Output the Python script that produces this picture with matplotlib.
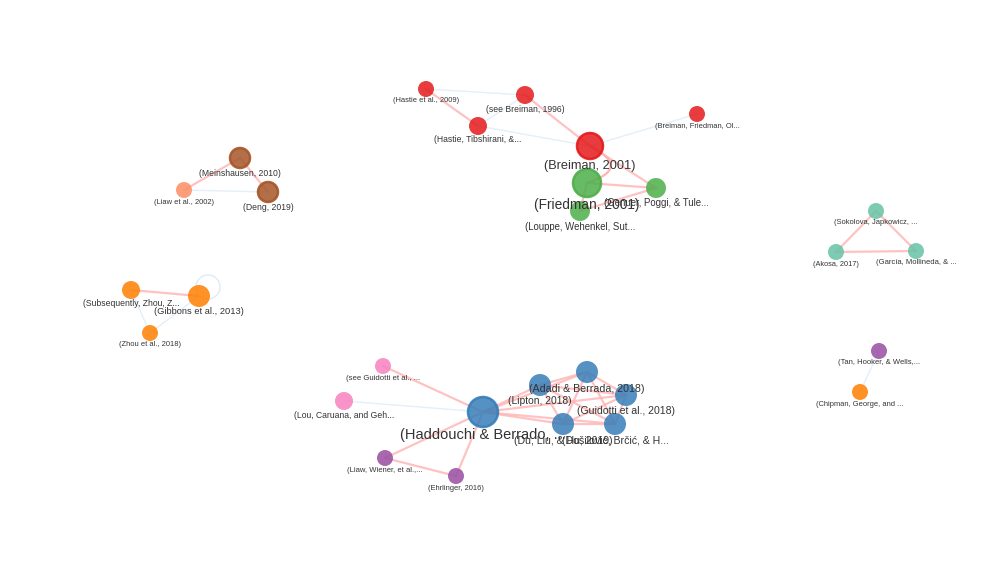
import matplotlib
matplotlib.use("Agg")
import matplotlib.pyplot as plt
from matplotlib.patches import Circle, FancyArrowPatch

# node data: label, group, weight (node radius follows weight)
labels = [
    "(Hastie et al., 2009)", "(see Breiman, 1996)", "(Hastie, Tibshirani, &...",
    "(Breiman, Friedman, Ol...", "(Breiman, 2001)",
    "(Friedman, 2001)", "(Genuer, Poggi, & Tule...", "(Louppe, Wehenkel, Sut...",
    "(Meinshausen, 2010)", "(Deng, 2019)", "(Liaw et al., 2002)",
    "(Subsequently, Zhou, Z...", "(Gibbons et al., 2013)", "(Zhou et al., 2018)",
    "(Sokolova, Japkowicz, ...", "(Akosa, 2017)", "(García, Mollineda, & ...",
    "(Tan, Hooker, & Wells,...", "(Chipman, George, and ...",
    "(see Guidotti et al., ...", "(Lou, Caruana, and Geh...",
    "(Liaw, Wiener, et al.,...", "(Ehrlinger, 2016)",
    "(Haddouchi & Berrado, ...", "(Lipton, 2018)", "(Adadi & Berrada, 2018)",
    "(Guidotti et al., 2018)", "(Du, Liu, & Hu, 2019)", "(Došilović, Brčić, & H...",
]
groups = [
    "red", "red", "red", "red", "red",
    "green", "green", "green",
    "brown", "brown", "salmon",
    "orange", "orange", "orange",
    "teal", "teal", "teal",
    "purple", "orange",
    "pink", "pink",
    "purple", "purple",
    "blue", "blue", "blue", "blue", "blue", "blue",
]
weights = [
    1, 2, 2, 1, 5,
    6, 3, 3,
    3, 3, 1,
    2, 4, 1,
    1, 1, 1,
    1, 1,
    1, 2,
    1, 1,
    7, 4, 4, 4, 4, 4,
]
# layout positions (pixels)
xs = [426, 525, 478, 697, 590, 587, 656, 580, 240, 268, 184, 131, 199, 150,
      876, 836, 916, 879, 860, 383, 344, 385, 456, 483, 540, 587, 626, 563, 615]
ys = [89, 95, 126, 114, 146, 183, 188, 211, 158, 192, 190, 290, 296, 333,
      211, 252, 251, 351, 392, 366, 401, 458, 476, 412, 385, 372, 395, 424, 424]
# label font sizes
fonts = [5.4, 6.2, 6.2, 5.4, 9.2, 9.9, 6.9, 6.9, 6.2, 6.2, 5.4, 6.2, 6.7, 5.4,
         5.4, 5.3, 5.5, 5.5, 5.4, 5.6, 6.2, 5.5, 5.4, 10.5, 7.4, 7.7, 7.6, 7.6, 7.6]

# edges: (source, target, strong)
edges = [
    (0, 2, True), (0, 1, False), (1, 2, False), (1, 4, True), (2, 4, False),
    (3, 4, False), (4, 6, True), (5, 6, True), (5, 7, True), (7, 6, True),
    (8, 10, True), (8, 9, True), (10, 9, False),
    (11, 12, True), (11, 13, False), (13, 12, False),
    (14, 15, True), (14, 16, True), (15, 16, True),
    (17, 18, False),
    (23, 19, True), (23, 20, False), (23, 21, True), (23, 22, True), (21, 22, True),
    (23, 24, True), (23, 25, True), (23, 26, True), (23, 27, True), (23, 28, True),
    (24, 25, True), (24, 27, True), (24, 26, True), (24, 28, True),
    (25, 26, True), (25, 27, True), (25, 28, True),
    (26, 27, True), (26, 28, True), (27, 28, True),
]

palette = {
    "red": "#e41a1c", "green": "#4daf4a", "brown": "#a65628", "salmon": "#fc8d62",
    "orange": "#ff7f00", "teal": "#66c2a5", "purple": "#984ea3",
    "pink": "#f781bf", "blue": "#377eb8",
}
radius = {1: 8, 2: 9, 3: 10, 4: 11, 5: 13, 6: 14, 7: 15}

plt.rcParams["font.family"] = ["Liberation Sans", "DejaVu Sans"]
fig = plt.figure(figsize=(9.92, 5.88), dpi=100)
ax = fig.add_axes([0, 0, 1, 1])
ax.set_xlim(0, 992)
ax.set_ylim(588, 0)
ax.axis("off")

# edges
for s, t, strong in edges:
    col = "#ffb3b3" if strong else "#dcebf8"
    ax.plot([xs[s], xs[t]], [ys[s], ys[t]], color=col, lw=1.6 if strong else 1.0,
            alpha=0.8, zorder=1, solid_capstyle="round")

# curved edge Breiman -> Friedman
ax.add_patch(FancyArrowPatch((xs[4], ys[4]), (xs[5], ys[5]), arrowstyle="-",
                             connectionstyle="arc3,rad=-1.2", color="#ffb3b3",
                             lw=1.6, zorder=1, shrinkA=0, shrinkB=0))
# self loop on Gibbons
ax.add_patch(Circle((xs[12] + 9, ys[12] - 9), 12, fill=False, ec="#dcebf8",
                    lw=1.0, zorder=1))

# nodes
for i, lab in enumerate(labels):
    w = weights[i]
    r = radius[w]
    c = palette[groups[i]]
    ring = w >= 5 or groups[i] == "brown"
    ax.add_patch(Circle((xs[i], ys[i]), r, fc=c, alpha=0.85, ec="none", zorder=3))
    if ring:
        ax.add_patch(Circle((xs[i], ys[i]), r, fc="none", ec=c, lw=1.8,
                            alpha=0.9, zorder=3))

# labels
for i, lab in enumerate(labels):
    r = radius[weights[i]]
    ax.text(xs[i], ys[i] + r + 0.5, lab, ha="center", va="top",
            fontsize=fonts[i], color="#333333", zorder=4)

fig.savefig("out.png", dpi=100)
